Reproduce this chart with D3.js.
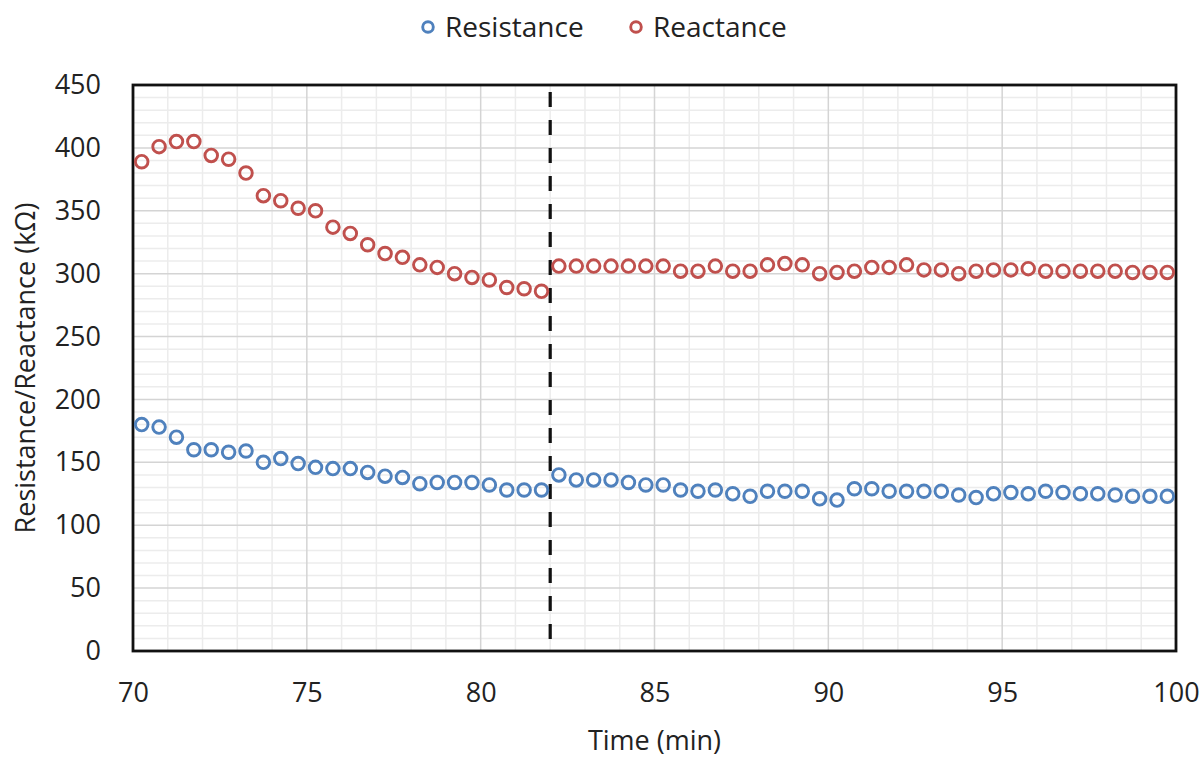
<!DOCTYPE html>
<html>
<head>
<meta charset="utf-8">
<script src="https://cdn.jsdelivr.net/npm/d3@7"></script>
<style>
  body { margin: 0; background: #fff; }
  text { font-family: "Open Sans", "Liberation Sans", sans-serif; fill: #222; }
</style>
</head>
<body>
<div id="chart"></div>
<script>
// time of each reading (min)
let times = d3.range(60).map(i => 70.25 + i * 0.5);
let resistance = [
  180, 178, 170, 160, 160, 158, 159, 150, 153, 149,
  146, 145, 145, 142, 139, 138, 133, 134, 134, 134,
  132, 128, 128, 128, 140, 136, 136, 136, 134, 132,
  132, 128, 127, 128, 125, 123, 127, 127, 127, 121,
  120, 129, 129, 127, 127, 127, 127, 124, 122, 125,
  126, 125, 127, 126, 125, 125, 124, 123, 123, 123
];
let reactance = [
  389, 401, 405, 405, 394, 391, 380, 362, 358, 352,
  350, 337, 332, 323, 316, 313, 307, 305, 300, 297,
  295, 289, 288, 286, 306, 306, 306, 306, 306, 306,
  306, 302, 302, 306, 302, 302, 307, 308, 307, 300,
  301, 302, 305, 305, 307, 303, 303, 300, 302, 303,
  303, 304, 302, 302, 302, 302, 302, 301, 301, 301
];
let seriesNames = ["Resistance", "Reactance"];
let xTicks = [70, 75, 80, 85, 90, 95, 100];
let yTicks = [0, 50, 100, 150, 200, 250, 300, 350, 400, 450];
let markerTime = 82;

let colorBlue = "#4f81bd";
let colorRed = "#c0504d";

let width = 1204,
    height = 757;
let margin = {top: 85, right: 28, bottom: 106, left: 133};

let svg = d3.select("#chart")
    .append("svg")
    .attr("width", width)
    .attr("height", height);

let x = d3.scaleLinear()
    .domain([70, 100])
    .range([margin.left, width - margin.right]);
let y = d3.scaleLinear()
    .domain([0, 450])
    .range([height - margin.bottom, margin.top]);

let g = svg.append("g");

// minor grid
g.selectAll(".vminor")
    .data(d3.range(71, 100).filter(d => d % 5 != 0))
    .enter().append("line")
    .attr("x1", d => x(d)).attr("x2", d => x(d))
    .attr("y1", y(0)).attr("y2", y(450))
    .style("stroke", "#ececec").style("stroke-width", 1.5);
g.selectAll(".hminor")
    .data(d3.range(10, 450, 10).filter(d => d % 50 != 0))
    .enter().append("line")
    .attr("x1", x(70)).attr("x2", x(100))
    .attr("y1", d => y(d)).attr("y2", d => y(d))
    .style("stroke", "#ececec").style("stroke-width", 1.5);

// major grid
g.selectAll(".vmajor")
    .data(xTicks.slice(1, -1))
    .enter().append("line")
    .attr("x1", d => x(d)).attr("x2", d => x(d))
    .attr("y1", y(0)).attr("y2", y(450))
    .style("stroke", "#d4d4d4").style("stroke-width", 1.5);
g.selectAll(".hmajor")
    .data(yTicks.slice(1, -1))
    .enter().append("line")
    .attr("x1", x(70)).attr("x2", x(100))
    .attr("y1", d => y(d)).attr("y2", d => y(d))
    .style("stroke", "#d4d4d4").style("stroke-width", 1.5);

// dashed marker line
g.append("line")
    .attr("x1", x(markerTime)).attr("x2", x(markerTime))
    .attr("y1", y(450) + 7).attr("y2", y(0))
    .style("stroke", "#111")
    .style("stroke-width", 3.2)
    .style("stroke-dasharray", "15,13");

// plot border
g.append("rect")
    .attr("x", x(70)).attr("y", y(450))
    .attr("width", x(100) - x(70))
    .attr("height", y(0) - y(450))
    .style("fill", "none")
    .style("stroke", "#111")
    .style("stroke-width", 2.8);

// axes
let xAxis = svg.append("g")
    .attr("transform", "translate(0," + y(0) + ")")
    .call(d3.axisBottom(x).tickValues(xTicks).tickSize(0).tickPadding(32));
let yAxis = svg.append("g")
    .attr("transform", "translate(" + x(70) + ",0)")
    .call(d3.axisLeft(y).tickValues(yTicks).tickSize(0).tickPadding(32));
[xAxis, yAxis].forEach(a => {
    a.select(".domain").remove();
    a.selectAll("text").style("font-size", "27px").style("fill", "#222")
        .style("font-family", "'Open Sans', 'Liberation Sans', sans-serif");
});

// points
let series = [
    {name: seriesNames[0], values: resistance, color: colorBlue},
    {name: seriesNames[1], values: reactance, color: colorRed}
];
series.forEach(s => {
    g.selectAll(null)
        .data(s.values)
        .enter()
        .append("circle")
        .attr("cx", (d, i) => x(times[i]))
        .attr("cy", d => y(d))
        .attr("r", 6.3)
        .style("fill", "none")
        .style("stroke", s.color)
        .style("stroke-width", 2.9);
});

// axis titles
svg.append("text")
    .attr("x", (x(70) + x(100)) / 2)
    .attr("y", 750)
    .attr("text-anchor", "middle")
    .style("font-size", "27px")
    .text("Time (min)");
svg.append("text")
    .attr("transform", "translate(35," + (y(225)) + ") rotate(-90)")
    .attr("text-anchor", "middle")
    .style("font-size", "27px")
    .text("Resistance/Reactance (kΩ)");

// legend
let legend = svg.selectAll(".legend")
    .data(series)
    .enter()
    .append("g")
    .attr("transform", (d, i) => "translate(" + [428, 636][i] + ",27)");
legend.append("circle")
    .attr("r", 5.3)
    .style("fill", "none")
    .style("stroke", d => d.color)
    .style("stroke-width", 2.9);
legend.append("text")
    .attr("x", 17)
    .attr("y", 10)
    .style("font-size", "28px")
    .text(d => d.name);
</script>
</body>
</html>
